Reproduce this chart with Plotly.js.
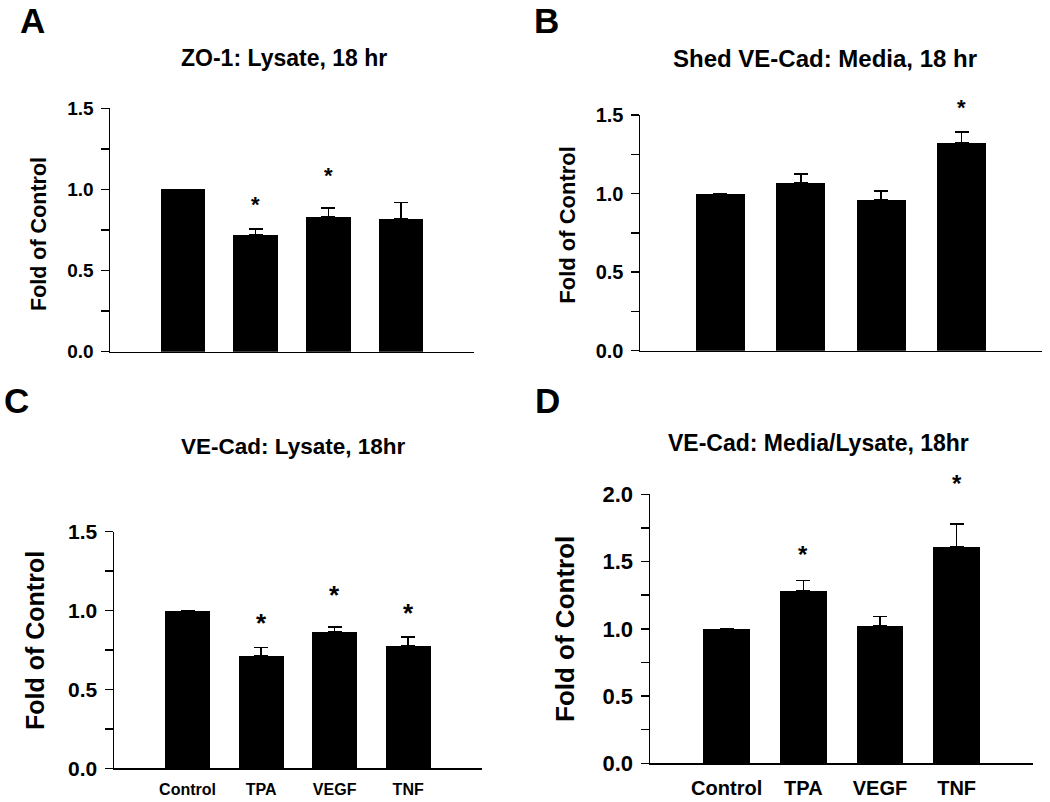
<!DOCTYPE html>
<html>
<head>
<meta charset="utf-8">
<script src="https://cdn.plot.ly/plotly-3.0.1.min.js"></script>
<style>html,body{margin:0;padding:0;background:#fff;}#chart{width:1050px;height:802px;}</style>
</head>
<body>
<div id="chart"></div>
<script>
// ---- data ----
var categories = ['Control', 'TPA', 'VEGF', 'TNF'];

var zo1Lysate = [1.0, 0.72, 0.83, 0.82];
var zo1Err = [0, 0.035, 0.055, 0.10];
var zo1Stars = [null, 0.925, 1.106, null];

var shedMedia = [1.0, 1.07, 0.96, 1.32];
var shedErr = [0, 0.055, 0.055, 0.07];
var shedStars = [null, null, null, 1.564];

var veLysate = [1.0, 0.715, 0.865, 0.775];
var veLysateErr = [0, 0.05, 0.03, 0.057];
var veLysateStars = [null, 0.94, 1.119, 1.003];

var veRatio = [1.0, 1.28, 1.02, 1.61];
var veRatioErr = [0, 0.08, 0.07, 0.17];
var veRatioStars = [null, 1.573, null, 2.099];

var yTicks15 = [0, 0.25, 0.5, 0.75, 1.0, 1.25, 1.5];
var yText15 = ['0.0', '', '0.5', '', '1.0', '', '1.5'];
var yTicks20 = [0, 0.25, 0.5, 0.75, 1.0, 1.25, 1.5, 1.75, 2.0];
var yText20 = ['0.0', '', '0.5', '', '1.0', '', '1.5', '', '2.0'];

var panelTitles = ['ZO-1: Lysate, 18 hr', 'Shed VE-Cad: Media, 18 hr', 'VE-Cad: Lysate, 18hr', 'VE-Cad: Media/Lysate, 18hr'];
var panelLetters = ['A', 'B', 'C', 'D'];
var yTitle = 'Fold of Control';

// ---- build ----
var FONT = 'Liberation Sans, Arial, Helvetica, sans-serif';

function barTrace(vals, errs, xa, ya) {
  return {
    type: 'bar', x: categories, y: vals, xaxis: xa, yaxis: ya,
    width: 0.61,
    marker: {color: '#000000', line: {width: 0}},
    error_y: {type: 'data', array: errs, symmetric: false,
              arrayminus: errs.map(function(){return 0;}),
              color: '#000000', thickness: 1.6, width: 7},
    hoverinfo: 'none', showlegend: false
  };
}

var data = [
  barTrace(zo1Lysate, zo1Err, 'x', 'y'),
  barTrace(shedMedia, shedErr, 'x2', 'y2'),
  barTrace(veLysate, veLysateErr, 'x3', 'y3'),
  barTrace(veRatio, veRatioErr, 'x4', 'y4')
];

function xAxis(domain, anchor, showLabels, fsize) {
  return {
    domain: domain, anchor: anchor, type: 'category', range: [-1, 4],
    showline: true, linecolor: '#000', linewidth: 1.5, showgrid: false, zeroline: false,
    ticks: '', showticklabels: showLabels, ticklabelstandoff: 6,
    tickfont: {family: FONT, size: fsize, color: '#000', weight: 'bold'},
    fixedrange: true
  };
}
function yAxis(domain, anchor, rng, tv, tt, fsize) {
  return {
    domain: domain, anchor: anchor, range: rng,
    showline: true, linecolor: '#000', linewidth: 1.5, showgrid: false, zeroline: false,
    ticks: 'outside', ticklen: 8, tickwidth: 1.5, tickcolor: '#000',
    tickmode: 'array', tickvals: tv, ticktext: tt, ticklabelstandoff: 3,
    tickfont: {family: FONT, size: fsize, color: '#000', weight: 'bold'},
    fixedrange: true
  };
}

function px(x) { return x / 1050; }
function py(y) { return 1 - y / 802; }

var layout = {
  width: 1050, height: 802,
  margin: {l: 0, r: 0, t: 0, b: 0},
  paper_bgcolor: '#fff', plot_bgcolor: '#fff',
  showlegend: false,
  bargap: 0,
  xaxis: xAxis([px(110), px(474)], 'y', false, 16),
  yaxis: yAxis([py(351.7), py(108.3)], 'x', [0, 1.5], yTicks15, yText15, 19),
  xaxis2: xAxis([px(640), px(1042)], 'y2', false, 16),
  yaxis2: yAxis([py(350.7), py(115)], 'x2', [0, 1.5], yTicks15, yText15, 20),
  xaxis3: xAxis([px(114), px(481.7)], 'y3', true, 16),
  yaxis3: yAxis([py(768.3), py(531.7)], 'x3', [0, 1.5], yTicks15, yText15, 21),
  xaxis4: xAxis([px(650), px(1033.3)], 'y4', true, 20),
  yaxis4: yAxis([py(763.3), py(494.3)], 'x4', [0, 2.0], yTicks20, yText20, 22),
  annotations: []
};

// significance stars (placed in data units, mapped through each y-axis domain)
var starSets = [[zo1Stars, 'x', 'y', 1.5, 22], [shedStars, 'x2', 'y2', 1.5, 22],
                [veLysateStars, 'x3', 'y3', 1.5, 26], [veRatioStars, 'x4', 'y4', 2.0, 24]];
starSets.forEach(function(s) {
  s[0].forEach(function(v, k) {
    if (v === null) return;
    layout.annotations.push({
      xref: s[1], yref: s[2] + ' domain', x: categories[k], y: v / s[3],
      xanchor: 'center', yanchor: 'middle', yshift: -3, showarrow: false, text: '*',
      font: {family: FONT, size: s[4], color: '#000', weight: 'bold'}
    });
  });
});

var titlePos = [[284, 58, 23], [825, 58, 24], [293, 446.7, 22.5], [818, 443, 23]];
var letterPos = [[32.5, 20], [546, 20], [16.5, 400.5], [547.5, 400.5]];
var yTitlePos = [[39, 234, 21.5], [566.7, 225, 22], [35, 641, 25], [565, 629, 26]];

for (var i = 0; i < 4; i++) {
  layout.annotations.push({
    xref: 'paper', yref: 'paper', x: px(titlePos[i][0]), y: py(titlePos[i][1]),
    xanchor: 'center', yanchor: 'middle', showarrow: false, text: panelTitles[i],
    font: {family: FONT, size: titlePos[i][2], color: '#000', weight: 'bold'}
  });
  layout.annotations.push({
    xref: 'paper', yref: 'paper', x: px(letterPos[i][0]), y: py(letterPos[i][1]),
    xanchor: 'center', yanchor: 'middle', showarrow: false, text: panelLetters[i],
    font: {family: FONT, size: 35, color: '#000', weight: 'bold'}
  });
  layout.annotations.push({
    xref: 'paper', yref: 'paper', x: px(yTitlePos[i][0]), y: py(yTitlePos[i][1]),
    xanchor: 'center', yanchor: 'middle', showarrow: false, text: yTitle, textangle: -90,
    font: {family: FONT, size: yTitlePos[i][2], color: '#000', weight: 'bold'}
  });
}

Plotly.newPlot('chart', data, layout, {staticPlot: true, displayModeBar: false});
</script>
</body>
</html>
